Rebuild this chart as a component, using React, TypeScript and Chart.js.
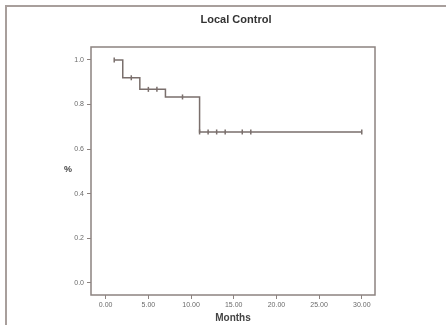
import React, { useEffect, useRef } from "react";
import { Chart, registerables } from "chart.js";

Chart.register(...registerables);

const chartTitle = "Local Control";
const xAxisTitle = "Months";
const yAxisTitle = "%";
const xTickValues = [0, 5, 10, 15, 20, 25, 30];
const yTickValues = [0, 0.2, 0.4, 0.6, 0.8, 1.0];
const stepTimes = [1, 2, 3, 4, 5, 6, 7, 9, 11, 12, 13, 14, 16, 17, 30];
const survival = [1.0, 0.92, 0.92, 0.868, 0.868, 0.868, 0.834, 0.834, 0.677, 0.677, 0.677, 0.677, 0.677, 0.677, 0.677];
const censored = [true, false, true, false, true, true, false, true, true, true, true, true, true, true, true];

const lineColor = "#7a6f6c";
const textColor = "#6a6a6a";

const framePlugin = {
  id: "framePlugin",
  afterDraw(chart: any) {
    const { ctx, chartArea } = chart;
    ctx.save();
    ctx.strokeStyle = "#8c8380";
    ctx.lineWidth = 1.5;
    ctx.strokeRect(chartArea.left, chartArea.top, chartArea.right - chartArea.left, chartArea.bottom - chartArea.top);
    ctx.fillStyle = "#333";
    ctx.textAlign = "center";
    ctx.textBaseline = "middle";
    ctx.font = "bold 11px 'Liberation Sans', Arial, sans-serif";
    ctx.fillText(chartTitle, 236, 20);
    ctx.font = "bold 9px 'Liberation Sans', Arial, sans-serif";
    ctx.fillStyle = "#444";
    ctx.fillText(yAxisTitle, 68, 170);
    ctx.restore();
  },
};

export default function App() {
  const ref = useRef<HTMLCanvasElement | null>(null);
  useEffect(() => {
    if (!ref.current) return;
    const points = stepTimes.map((t, i) => ({ x: t, y: survival[i] }));
    const chart = new Chart(ref.current, {
      type: "line",
      data: {
        datasets: [
          {
            data: points,
            stepped: "before",
            borderColor: lineColor,
            borderWidth: 1.5,
            fill: false,
            pointStyle: "line",
            rotation: 90,
            pointRadius: censored.map((c) => (c ? 2.5 : 0)),
            pointBorderColor: lineColor,
            pointBorderWidth: 1.5,
          },
        ],
      },
      plugins: [framePlugin],
      options: {
        animation: false,
        responsive: false,
        layout: { padding: { top: 47, right: 71, left: 0, bottom: 0 } },
        plugins: { legend: { display: false }, title: { display: false }, tooltip: { enabled: false } },
        scales: {
          x: {
            type: "linear",
            min: -1.72,
            max: 31.55,
            afterBuildTicks: (s: any) => {
              s.ticks = xTickValues.map((v) => ({ value: v }));
            },
            afterFit: (s: any) => {
              s.height = 30;
            },
            grid: { drawOnChartArea: false, drawTicks: true, tickLength: 4, color: "#8c8380", lineWidth: 1 },
            border: { display: false },
            ticks: {
              color: textColor,
              padding: 2,
              maxRotation: 0,
              font: { size: 7, family: "'Liberation Sans', Arial, sans-serif" },
              callback: (v: any) => Number(v).toFixed(2),
            },
            title: {
              display: true,
              text: xAxisTitle,
              color: "#444",
              padding: { top: 0, bottom: 1 },
              font: { size: 10, weight: "bold", family: "'Liberation Sans', Arial, sans-serif" },
            },
          },
          y: {
            type: "linear",
            min: -0.054,
            max: 1.058,
            afterBuildTicks: (s: any) => {
              s.ticks = yTickValues.map((v) => ({ value: v }));
            },
            afterFit: (s: any) => {
              s.width = 91;
            },
            grid: { drawOnChartArea: false, drawTicks: true, tickLength: 4, color: "#8c8380", lineWidth: 1 },
            border: { display: false },
            ticks: {
              color: textColor,
              padding: 3,
              font: { size: 7, family: "'Liberation Sans', Arial, sans-serif" },
              callback: (v: any) => Number(v).toFixed(1),
            },
          },
        },
      },
    } as any);
    return () => chart.destroy();
  }, []);

  return (
    <div style={{ position: "fixed", left: 0, top: 0, width: 446, height: 325, background: "#fff", overflow: "hidden" }}>
      <div
        style={{
          position: "absolute",
          left: 5,
          top: 5,
          width: 500,
          height: 400,
          borderTop: "2px solid #a89f9c",
          borderLeft: "2px solid #a89f9c",
        }}
      />
      <canvas ref={ref} width={446} height={325} style={{ position: "absolute", left: 0, top: 0 }} />
    </div>
  );
}
